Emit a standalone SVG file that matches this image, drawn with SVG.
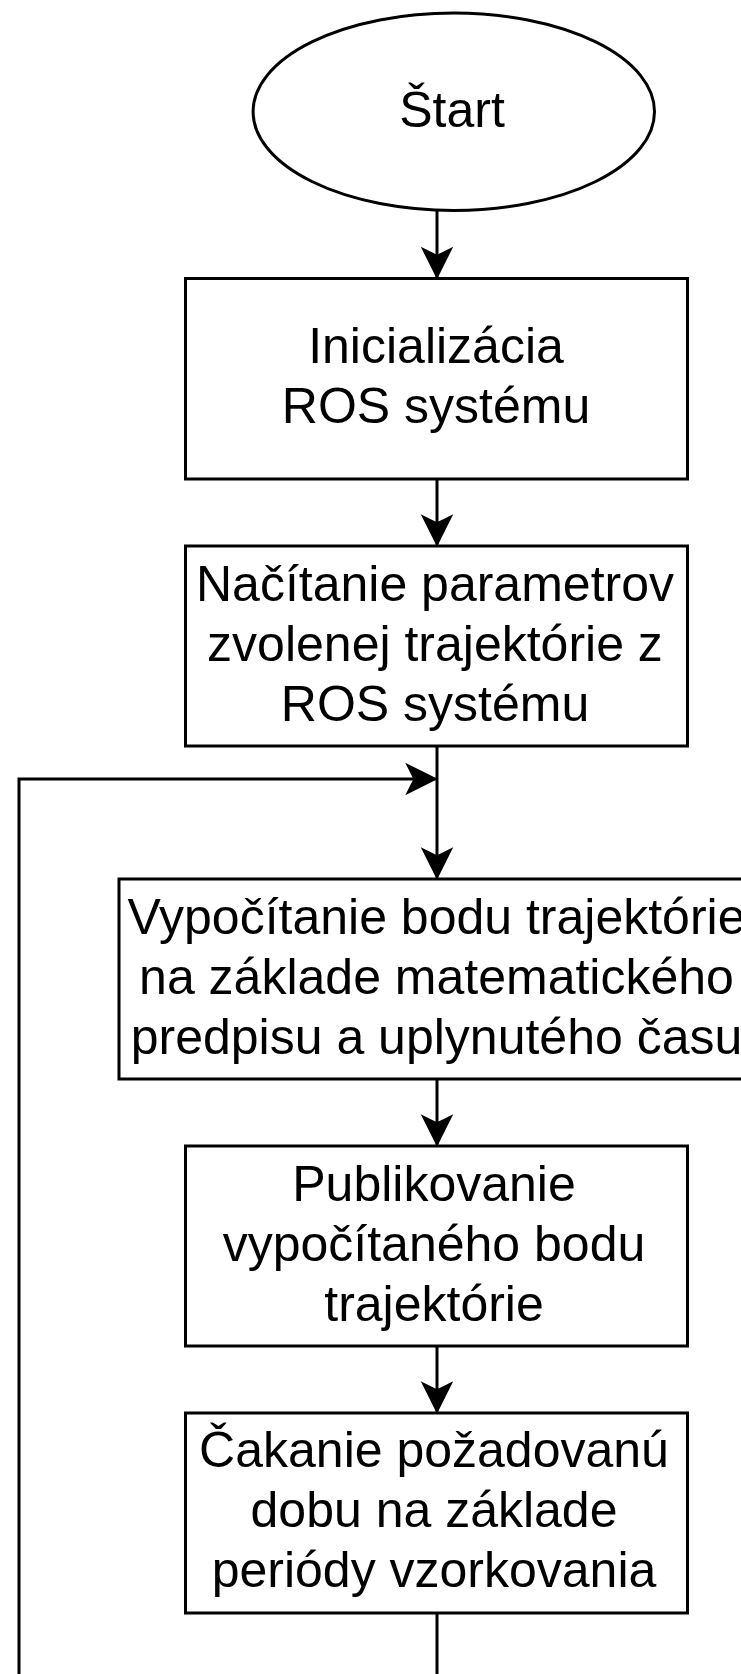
<svg xmlns="http://www.w3.org/2000/svg" width="741" height="1674" viewBox="0 0 741 1674">
  <style>
    .shape { fill: #ffffff; stroke: #000000; stroke-width: 3; }
    .edge { fill: none; stroke: #000000; stroke-width: 3; }
    .label { font-family: "Liberation Sans", Arial, Helvetica, sans-serif; font-size: 50px; fill: #000000; text-anchor: middle; }
  </style>
  <defs>
    <marker id="arrow" markerUnits="userSpaceOnUse" markerWidth="40" markerHeight="40" refX="0" refY="0" orient="auto" overflow="visible">
      <path d="M0,0 L-28,-14 L-21,0 L-28,14 Z" fill="#000000" stroke="#000000" stroke-width="2" stroke-linejoin="miter"/>
    </marker>
  </defs>
  <rect width="741" height="1674" fill="#ffffff"/>

  <g id="connectors">
    <path class="edge" d="M437,210 L437,277" marker-end="url(#arrow)"/>
    <path class="edge" d="M437,479 L437,544.5" marker-end="url(#arrow)"/>
    <path class="edge" d="M437,746 L437,877.5" marker-end="url(#arrow)"/>
    <path class="edge" d="M437,1079 L437,1144.5" marker-end="url(#arrow)"/>
    <path class="edge" d="M437,1346 L437,1411.5" marker-end="url(#arrow)"/>
    <path class="edge" d="M437,1613 L437,1720 L19,1720 L19,779 L435.5,779" marker-end="url(#arrow)"/>
  </g>

  <g id="start">
    <ellipse class="shape" cx="453.8" cy="111.7" rx="200.7" ry="98.7"/>
    <text class="label" x="452" y="126.7">Štart</text>
  </g>

  <g id="init">
    <rect class="shape" x="185.5" y="278.5" width="502" height="200.5"/>
    <text class="label" x="436" y="363">Inicializácia</text>
    <text class="label" x="436" y="423">ROS systému</text>
  </g>

  <g id="load">
    <rect class="shape" x="185.5" y="546" width="502" height="200"/>
    <text class="label" x="435" y="600.5">Načítanie parametrov</text>
    <text class="label" x="435" y="660.5">zvolenej trajektórie z</text>
    <text class="label" x="435" y="720.5">ROS systému</text>
  </g>

  <g id="compute">
    <rect class="shape" x="119" y="879" width="636" height="200"/>
    <text class="label" x="436.5" y="933.5">Vypočítanie bodu trajektórie</text>
    <text class="label" x="436.5" y="993.5">na základe matematického</text>
    <text class="label" x="436.5" y="1053.5">predpisu a uplynutého času</text>
  </g>

  <g id="publish">
    <rect class="shape" x="185.5" y="1146" width="502" height="200"/>
    <text class="label" x="434" y="1200.5">Publikovanie</text>
    <text class="label" x="434" y="1260.5">vypočítaného bodu</text>
    <text class="label" x="434" y="1320.5">trajektórie</text>
  </g>

  <g id="wait">
    <rect class="shape" x="185.5" y="1413" width="502" height="200"/>
    <text class="label" x="434" y="1467">Čakanie požadovanú</text>
    <text class="label" x="434" y="1527">dobu na základe</text>
    <text class="label" x="434" y="1587">periódy vzorkovania</text>
  </g>
</svg>
